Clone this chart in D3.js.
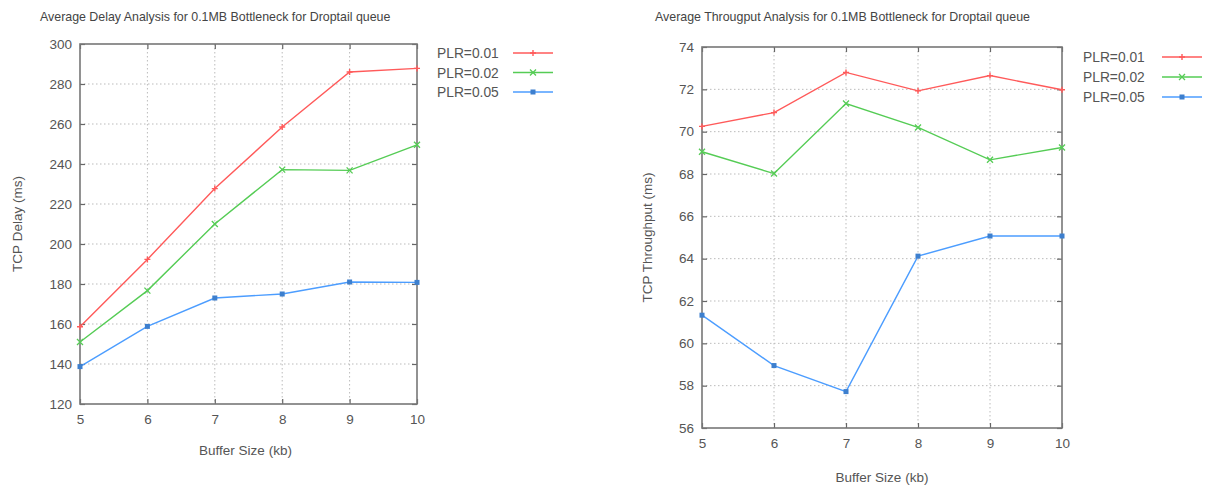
<!DOCTYPE html>
<html>
<head>
<meta charset="utf-8">
<script src="https://cdn.jsdelivr.net/npm/d3@7"></script>
<style>
  body { margin: 0; background: #fff; }
  svg { font-family: "Liberation Sans", Arial, sans-serif; }
  .grid line { stroke: #bbb; stroke-dasharray: 1.5,2.5; }
  .tick-label { fill: #555; font-size: 13.5px; }
</style>
</head>
<body>
<svg width="1225" height="491"></svg>
<script>
var svg = d3.select("svg");

var bufferSizes = [5, 6, 7, 8, 9, 10];
var seriesNames = ["PLR=0.01", "PLR=0.02", "PLR=0.05"];
var seriesColors = ["#ff5a5a", "#55cc55", "#4c9dff"];
var seriesSymbols = ["plus", "cross", "square"];

var delay001 = [158.6, 192.3, 227.7, 258.5, 286, 287.8];
var delay002 = [151, 176.7, 210, 237.2, 236.8, 249.6];
var delay005 = [138.7, 158.8, 173, 175, 181, 180.8];
var delayTicks = [120, 140, 160, 180, 200, 220, 240, 260, 280, 300];

var thr001 = [70.25, 70.9, 72.8, 71.93, 72.65, 71.98];
var thr002 = [69.05, 68.02, 71.33, 70.2, 68.67, 69.25];
var thr005 = [61.33, 58.95, 57.72, 64.12, 65.07, 65.07];
var thrTicks = [56, 58, 60, 62, 64, 66, 68, 70, 72, 74];

function drawChart(cfg) {
  var x = d3.scaleLinear().domain([5, 10]).range([cfg.left, cfg.right]);
  var y = d3.scaleLinear().domain(d3.extent(cfg.yTicks)).range([cfg.bottom, cfg.top]);
  var g = svg.append("g");

  // title
  g.append("text")
    .attr("x", cfg.titleX).attr("y", cfg.titleY)
    .attr("fill", "#444").attr("font-size", "12.4px")
    .text(cfg.title);

  // grid
  var grid = g.append("g").attr("class", "grid");
  grid.selectAll(".gy").data(cfg.yTicks.slice(1, -1)).enter().append("line")
    .attr("x1", cfg.left).attr("x2", cfg.right)
    .attr("y1", function(d) { return y(d); }).attr("y2", function(d) { return y(d); });
  grid.selectAll(".gx").data(bufferSizes.slice(1, -1)).enter().append("line")
    .attr("y1", cfg.top).attr("y2", cfg.bottom)
    .attr("x1", function(d) { return x(d); }).attr("x2", function(d) { return x(d); });

  // inward ticks on all four sides
  var yAxisL = d3.axisLeft(y).tickValues(cfg.yTicks).tickSize(-5).tickPadding(8).tickFormat(d3.format("d"));
  var yAxisR = d3.axisRight(y).tickValues(cfg.yTicks).tickSize(-5).tickFormat("");
  var xAxisB = d3.axisBottom(x).tickValues(bufferSizes).tickSize(-5).tickPadding(10).tickFormat(d3.format("d"));
  var xAxisT = d3.axisTop(x).tickValues(bufferSizes).tickSize(-5).tickFormat("");

  [[yAxisL, "translate(" + cfg.left + ",0)"],
   [yAxisR, "translate(" + cfg.right + ",0)"],
   [xAxisB, "translate(0," + cfg.bottom + ")"],
   [xAxisT, "translate(0," + cfg.top + ")"]].forEach(function(a) {
    var ax = g.append("g").attr("transform", a[1]).call(a[0]);
    ax.select(".domain").remove();
    ax.selectAll("line").attr("stroke", "#666").attr("stroke-width", 1.2);
    ax.selectAll("text").attr("class", "tick-label").attr("font-family", null).attr("font-size", null);
  });

  // frame
  g.append("rect")
    .attr("x", cfg.left).attr("y", cfg.top)
    .attr("width", cfg.right - cfg.left).attr("height", cfg.bottom - cfg.top)
    .attr("fill", "none").attr("stroke", "#777").attr("stroke-width", 1.6);

  // axis labels
  g.append("text")
    .attr("transform", "translate(" + cfg.yLabelX + "," + (cfg.top + cfg.bottom) / 2 + ") rotate(-90)")
    .attr("text-anchor", "middle").attr("fill", "#555").attr("font-size", "13.5px")
    .text(cfg.yLabel);
  g.append("text")
    .attr("x", (cfg.left + cfg.right) / 2 + cfg.xLabelShift).attr("y", cfg.xLabelY)
    .attr("text-anchor", "middle").attr("fill", "#555").attr("font-size", "13.5px")
    .text("Buffer Size (kb)");

  var line = d3.line()
    .x(function(d, i) { return x(bufferSizes[i]); })
    .y(function(d) { return y(d); });

  cfg.series.forEach(function(vals, si) {
    var col = seriesColors[si];
    g.append("path").datum(vals)
      .attr("d", line).attr("fill", "none")
      .attr("stroke", col).attr("stroke-width", 1.4);
    vals.forEach(function(v, i) {
      drawSymbol(g, seriesSymbols[si], x(bufferSizes[i]), y(v), col);
    });

    // legend
    var ly = cfg.legendY + si * cfg.legendStep;
    g.append("text")
      .attr("x", cfg.legendTextX).attr("y", ly + 5)
      .attr("fill", "#555").attr("font-size", "13.8px")
      .text(seriesNames[si]);
    g.append("line")
      .attr("x1", cfg.legendLineX).attr("x2", cfg.legendLineX + 40)
      .attr("y1", ly).attr("y2", ly)
      .attr("stroke", col).attr("stroke-width", 1.4);
    drawSymbol(g, seriesSymbols[si], cfg.legendLineX + 20, ly, col);
  });
}

function drawSymbol(g, type, cx, cy, col) {
  if (type === "plus") {
    g.append("path")
      .attr("d", "M" + (cx - 3) + "," + cy + "h6M" + cx + "," + (cy - 3) + "v6")
      .attr("stroke", col).attr("stroke-width", 1.4);
  } else if (type === "cross") {
    g.append("path")
      .attr("d", "M" + (cx - 3) + "," + (cy - 3) + "l6,6M" + (cx - 3) + "," + (cy + 3) + "l6,-6")
      .attr("stroke", col).attr("stroke-width", 1.3);
  } else {
    g.append("rect")
      .attr("x", cx - 2.5).attr("y", cy - 2.5).attr("width", 5).attr("height", 5)
      .attr("fill", d3.color(col).darker(0.6));
  }
}

drawChart({
  title: "Average Delay Analysis for 0.1MB Bottleneck for Droptail queue",
  titleX: 40, titleY: 21,
  left: 80, right: 417, top: 44, bottom: 404,
  yTicks: delayTicks,
  yLabel: "TCP Delay (ms)", yLabelX: 22,
  xLabelY: 455, xLabelShift: -3,
  series: [delay001, delay002, delay005],
  legendTextX: 437, legendLineX: 513, legendY: 53, legendStep: 19.5
});

drawChart({
  title: "Average Througput Analysis for 0.1MB Bottleneck for Droptail queue",
  titleX: 655, titleY: 21,
  left: 702, right: 1062, top: 47, bottom: 428,
  yTicks: thrTicks,
  yLabel: "TCP Throughput (ms)", yLabelX: 652,
  xLabelY: 482, xLabelShift: 0,
  series: [thr001, thr002, thr005],
  legendTextX: 1083, legendLineX: 1162, legendY: 57, legendStep: 20
});
</script>
</body>
</html>
